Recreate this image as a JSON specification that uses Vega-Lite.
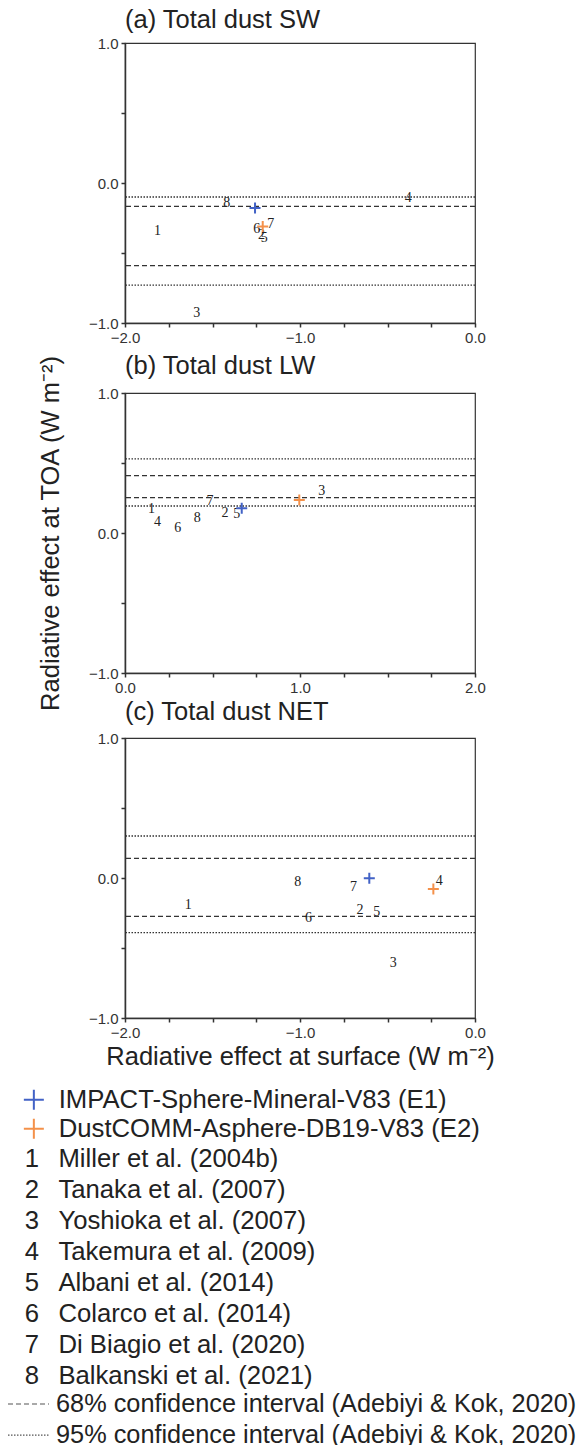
{
  "$schema": "https://vega.github.io/schema/vega-lite/v6.json",
  "padding": {"left": 7, "top": 6, "right": 0, "bottom": 0},
  "background": "white",
  "config": {
    "font": "Liberation Sans",
    "view": {"stroke": "#333", "strokeWidth": 1.2},
    "axis": {"domainColor": "#333", "domainWidth": 1.5, "tickColor": "#333", "tickWidth": 1.5, "tickSize": 4, "labelFontSize": 15, "labelColor": "#333", "labelPadding": 3, "labelFlush": false, "labelOverlap": false, "grid": false, "titleFontSize": 25.5, "titleFontWeight": "normal", "titleColor": "#222"},
    "title": {"fontSize": 25.5, "fontWeight": "normal", "color": "#222", "anchor": "start", "frame": "group", "baseline": "alphabetic"},
    "legend": {"padding": 0, "offset": 0, "labelFontSize": 25.7, "labelColor": "#222", "labelLimit": 700}
  },
  "datasets": {
    "lines": [
      {"panel": "a", "toa": -0.10, "ci": "95% confidence interval (Adebiyi & Kok, 2020)"},
      {"panel": "a", "toa": -0.73, "ci": "95% confidence interval (Adebiyi & Kok, 2020)"},
      {"panel": "a", "toa": -0.167, "ci": "68% confidence interval (Adebiyi & Kok, 2020)"},
      {"panel": "a", "toa": -0.59, "ci": "68% confidence interval (Adebiyi & Kok, 2020)"},
      {"panel": "b", "toa": 0.53, "ci": "95% confidence interval (Adebiyi & Kok, 2020)"},
      {"panel": "b", "toa": 0.193, "ci": "95% confidence interval (Adebiyi & Kok, 2020)"},
      {"panel": "b", "toa": 0.41, "ci": "68% confidence interval (Adebiyi & Kok, 2020)"},
      {"panel": "b", "toa": 0.252, "ci": "68% confidence interval (Adebiyi & Kok, 2020)"},
      {"panel": "c", "toa": 0.30, "ci": "95% confidence interval (Adebiyi & Kok, 2020)"},
      {"panel": "c", "toa": -0.39, "ci": "95% confidence interval (Adebiyi & Kok, 2020)"},
      {"panel": "c", "toa": 0.14, "ci": "68% confidence interval (Adebiyi & Kok, 2020)"},
      {"panel": "c", "toa": -0.274, "ci": "68% confidence interval (Adebiyi & Kok, 2020)"}
    ],
    "studies": [
      {"panel": "a", "id": "1", "study": "Miller et al. (2004b)", "surface": -1.815, "toa": -0.341},
      {"panel": "a", "id": "2", "study": "Tanaka et al. (2007)", "surface": -1.22, "toa": -0.37},
      {"panel": "a", "id": "3", "study": "Yoshioka et al. (2007)", "surface": -1.59, "toa": -0.929},
      {"panel": "a", "id": "4", "study": "Takemura et al. (2009)", "surface": -0.381, "toa": -0.107},
      {"panel": "a", "id": "5", "study": "Albani et al. (2014)", "surface": -1.205, "toa": -0.39},
      {"panel": "a", "id": "6", "study": "Colarco et al. (2014)", "surface": -1.247, "toa": -0.329},
      {"panel": "a", "id": "7", "study": "Di Biagio et al. (2020)", "surface": -1.167, "toa": -0.29},
      {"panel": "a", "id": "8", "study": "Balkanski et al. (2021)", "surface": -1.419, "toa": -0.14},
      {"panel": "b", "id": "1", "study": "Miller et al. (2004b)", "surface": 0.152, "toa": 0.171},
      {"panel": "b", "id": "2", "study": "Tanaka et al. (2007)", "surface": 0.571, "toa": 0.143},
      {"panel": "b", "id": "3", "study": "Yoshioka et al. (2007)", "surface": 1.124, "toa": 0.298},
      {"panel": "b", "id": "4", "study": "Takemura et al. (2009)", "surface": 0.185, "toa": 0.076},
      {"panel": "b", "id": "5", "study": "Albani et al. (2014)", "surface": 0.638, "toa": 0.136},
      {"panel": "b", "id": "6", "study": "Colarco et al. (2014)", "surface": 0.301, "toa": 0.036},
      {"panel": "b", "id": "7", "study": "Di Biagio et al. (2020)", "surface": 0.486, "toa": 0.231},
      {"panel": "b", "id": "8", "study": "Balkanski et al. (2021)", "surface": 0.413, "toa": 0.107},
      {"panel": "c", "id": "1", "study": "Miller et al. (2004b)", "surface": -1.638, "toa": -0.193},
      {"panel": "c", "id": "2", "study": "Tanaka et al. (2007)", "surface": -0.657, "toa": -0.229},
      {"panel": "c", "id": "3", "study": "Yoshioka et al. (2007)", "surface": -0.467, "toa": -0.609},
      {"panel": "c", "id": "4", "study": "Takemura et al. (2009)", "surface": -0.204, "toa": -0.024},
      {"panel": "c", "id": "5", "study": "Albani et al. (2014)", "surface": -0.562, "toa": -0.24},
      {"panel": "c", "id": "6", "study": "Colarco et al. (2014)", "surface": -0.952, "toa": -0.286},
      {"panel": "c", "id": "7", "study": "Di Biagio et al. (2020)", "surface": -0.695, "toa": -0.067},
      {"panel": "c", "id": "8", "study": "Balkanski et al. (2021)", "surface": -1.013, "toa": -0.031}
    ],
    "models": [
      {"panel": "a", "model": "IMPACT-Sphere-Mineral-V83 (E1)", "surface": -1.257, "toa": -0.179},
      {"panel": "a", "model": "DustCOMM-Asphere-DB19-V83 (E2)", "surface": -1.213, "toa": -0.31},
      {"panel": "b", "model": "IMPACT-Sphere-Mineral-V83 (E1)", "surface": 0.667, "toa": 0.176},
      {"panel": "b", "model": "DustCOMM-Asphere-DB19-V83 (E2)", "surface": 0.996, "toa": 0.236},
      {"panel": "c", "model": "IMPACT-Sphere-Mineral-V83 (E1)", "surface": -0.604, "toa": -0.002},
      {"panel": "c", "model": "DustCOMM-Asphere-DB19-V83 (E2)", "surface": -0.238, "toa": -0.079}
    ]
  },
  "bounds": "flush",
  "spacing": 70,
  "vconcat": [
    {
      "width": 350, "height": 280,
      "title": {"text": "(a) Total dust SW", "offset": 3},
      "layer": [
        {
          "data": {"name": "lines"},
          "transform": [{"filter": "datum.panel === 'a'"}],
          "mark": {"type": "rule", "color": "#333", "strokeWidth": 1.3},
          "encoding": {
            "y": {"field": "toa", "type": "quantitative", "scale": {"domain": [-1, 1], "nice": false, "zero": false},
                  "axis": {"values": [-1, -0.75, -0.5, -0.25, 0, 0.25, 0.5, 0.75, 1], "labelExpr": "datum.value % 1 === 0 ? format(datum.value, '.1f') : ''", "title": null}},
            "strokeDash": {"field": "ci", "type": "nominal",
              "scale": {"domain": ["68% confidence interval (Adebiyi & Kok, 2020)", "95% confidence interval (Adebiyi & Kok, 2020)"], "range": [[5, 3], [1.5, 1.5]]},
              "legend": {"orient": "none", "legendX": -118, "legendY": 1348, "title": null, "symbolType": "stroke", "symbolSize": 1681, "symbolStrokeColor": "#555", "symbolStrokeWidth": 1.2, "labelOffset": 6, "labelFontSize": 25.3, "rowPadding": 4.2, "clipHeight": 26}}
          }
        },
        {
          "data": {"name": "studies"},
          "transform": [{"filter": "datum.panel === 'a'"}],
          "mark": {"type": "text", "font": "Liberation Serif", "fontSize": 14, "baseline": "middle", "align": "center"},
          "encoding": {
            "x": {"field": "surface", "type": "quantitative", "scale": {"domain": [-2, 0], "nice": false, "zero": false},
                  "axis": {"values": [-2, -1.75, -1.5, -1.25, -1, -0.75, -0.5, -0.25, 0], "labelExpr": "datum.value % 1 === 0 ? format(datum.value, '.1f') : ''", "title": null}},
            "y": {"field": "toa", "type": "quantitative", "scale": {"domain": [-1, 1], "nice": false, "zero": false}},
            "text": {"field": "id", "type": "nominal"},
            "fill": {"field": "study", "type": "nominal",
              "scale": {"domain": ["Miller et al. (2004b)", "Tanaka et al. (2007)", "Yoshioka et al. (2007)", "Takemura et al. (2009)", "Albani et al. (2014)", "Colarco et al. (2014)", "Di Biagio et al. (2020)", "Balkanski et al. (2021)"], "range": ["#222", "#222", "#222", "#222", "#222", "#222", "#222", "#222"]},
              "legend": {"orient": "none", "legendX": -100, "legendY": 1103, "title": null, "symbolSize": 0, "symbolOpacity": 0, "labelOffset": -26, "rowPadding": 4.0, "labelExpr": "(datum.index + 1) + '\u00a0\u00a0\u2009' + datum.label"}}
          }
        },
        {
          "data": {"name": "models"},
          "transform": [{"filter": "datum.panel === 'a'"}],
          "mark": {"type": "point", "shape": "M-1,0H1M0,-1V1", "filled": false, "size": 121, "strokeWidth": 2, "opacity": 1},
          "encoding": {
            "x": {"field": "surface", "type": "quantitative", "scale": {"domain": [-2, 0], "nice": false, "zero": false}},
            "y": {"field": "toa", "type": "quantitative", "scale": {"domain": [-1, 1], "nice": false, "zero": false}},
            "stroke": {"field": "model", "type": "nominal",
              "scale": {"domain": ["IMPACT-Sphere-Mineral-V83 (E1)", "DustCOMM-Asphere-DB19-V83 (E2)"], "range": ["#4262c6", "#f4914a"]},
              "legend": {"orient": "none", "legendX": -104, "legendY": 1044, "title": null, "symbolType": "M-1,0H1M0,-1V1", "symbolSize": 400, "symbolStrokeWidth": 2, "symbolFillColor": "transparent", "labelOffset": 12, "rowPadding": 0}}
          }
        }
      ]
    },
    {
      "bounds": "flush",
      "spacing": 65,
      "vconcat": [
        {
          "width": 350, "height": 280,
          "title": {"text": "(b) Total dust LW", "offset": -25},
          "layer": [
            {
              "data": {"name": "lines"},
              "transform": [{"filter": "datum.panel === 'b'"}],
              "mark": {"type": "rule", "color": "#333", "strokeWidth": 1.3},
              "encoding": {
                "y": {"field": "toa", "type": "quantitative", "scale": {"domain": [-1, 1], "nice": false, "zero": false},
                      "axis": {"values": [-1, -0.75, -0.5, -0.25, 0, 0.25, 0.5, 0.75, 1], "labelExpr": "datum.value % 1 === 0 ? format(datum.value, '.1f') : ''", "title": "Radiative effect at TOA (W m⁻²)", "titlePadding": 25}},
                "strokeDash": {"field": "ci", "type": "nominal",
                  "scale": {"domain": ["68% confidence interval (Adebiyi & Kok, 2020)", "95% confidence interval (Adebiyi & Kok, 2020)"], "range": [[5, 3], [1.5, 1.5]]},
                  "legend": {"orient": "none", "legendX": -118, "legendY": 1348, "title": null, "symbolType": "stroke", "symbolSize": 1681, "symbolStrokeColor": "#555", "symbolStrokeWidth": 1.2, "labelOffset": 6, "labelFontSize": 25.3, "rowPadding": 4.2, "clipHeight": 26}}
              }
            },
            {
              "data": {"name": "studies"},
              "transform": [{"filter": "datum.panel === 'b'"}],
              "mark": {"type": "text", "font": "Liberation Serif", "fontSize": 14, "baseline": "middle", "align": "center"},
              "encoding": {
                "x": {"field": "surface", "type": "quantitative", "scale": {"domain": [0, 2], "nice": false, "zero": false},
                      "axis": {"values": [0, 0.25, 0.5, 0.75, 1, 1.25, 1.5, 1.75, 2], "labelExpr": "datum.value % 1 === 0 ? format(datum.value, '.1f') : ''", "title": null}},
                "y": {"field": "toa", "type": "quantitative", "scale": {"domain": [-1, 1], "nice": false, "zero": false}},
                "text": {"field": "id", "type": "nominal"},
                "fill": {"field": "study", "type": "nominal",
                  "scale": {"domain": ["Miller et al. (2004b)", "Tanaka et al. (2007)", "Yoshioka et al. (2007)", "Takemura et al. (2009)", "Albani et al. (2014)", "Colarco et al. (2014)", "Di Biagio et al. (2020)", "Balkanski et al. (2021)"], "range": ["#222", "#222", "#222", "#222", "#222", "#222", "#222", "#222"]},
                  "legend": {"orient": "none", "legendX": -100, "legendY": 1103, "title": null, "symbolSize": 0, "symbolOpacity": 0, "labelOffset": -26, "rowPadding": 4.0, "labelExpr": "(datum.index + 1) + '\u00a0\u00a0\u2009' + datum.label"}}
              }
            },
            {
              "data": {"name": "models"},
              "transform": [{"filter": "datum.panel === 'b'"}],
              "mark": {"type": "point", "shape": "M-1,0H1M0,-1V1", "filled": false, "size": 121, "strokeWidth": 2, "opacity": 1},
              "encoding": {
                "x": {"field": "surface", "type": "quantitative", "scale": {"domain": [0, 2], "nice": false, "zero": false}},
                "y": {"field": "toa", "type": "quantitative", "scale": {"domain": [-1, 1], "nice": false, "zero": false}},
                "stroke": {"field": "model", "type": "nominal",
                  "scale": {"domain": ["IMPACT-Sphere-Mineral-V83 (E1)", "DustCOMM-Asphere-DB19-V83 (E2)"], "range": ["#4262c6", "#f4914a"]},
                  "legend": {"orient": "none", "legendX": -104, "legendY": 1044, "title": null, "symbolType": "M-1,0H1M0,-1V1", "symbolSize": 400, "symbolStrokeWidth": 2, "symbolFillColor": "transparent", "labelOffset": 12, "rowPadding": 0}}
              }
            }
          ]
        },
        {
          "width": 350, "height": 280,
          "title": {"text": "(c) Total dust NET", "offset": 5.5},
          "layer": [
            {
              "data": {"name": "lines"},
              "transform": [{"filter": "datum.panel === 'c'"}],
              "mark": {"type": "rule", "color": "#333", "strokeWidth": 1.3},
              "encoding": {
                "y": {"field": "toa", "type": "quantitative", "scale": {"domain": [-1, 1], "nice": false, "zero": false},
                      "axis": {"values": [-1, -0.75, -0.5, -0.25, 0, 0.25, 0.5, 0.75, 1], "labelExpr": "datum.value % 1 === 0 ? format(datum.value, '.1f') : ''", "title": null}},
                "strokeDash": {"field": "ci", "type": "nominal",
                  "scale": {"domain": ["68% confidence interval (Adebiyi & Kok, 2020)", "95% confidence interval (Adebiyi & Kok, 2020)"], "range": [[5, 3], [1.5, 1.5]]},
                  "legend": {"orient": "none", "legendX": -118, "legendY": 1348, "title": null, "symbolType": "stroke", "symbolSize": 1681, "symbolStrokeColor": "#555", "symbolStrokeWidth": 1.2, "labelOffset": 6, "labelFontSize": 25.3, "rowPadding": 4.2, "clipHeight": 26}}
              }
            },
            {
              "data": {"name": "studies"},
              "transform": [{"filter": "datum.panel === 'c'"}],
              "mark": {"type": "text", "font": "Liberation Serif", "fontSize": 14, "baseline": "middle", "align": "center"},
              "encoding": {
                "x": {"field": "surface", "type": "quantitative", "scale": {"domain": [-2, 0], "nice": false, "zero": false},
                      "axis": {"values": [-2, -1.75, -1.5, -1.25, -1, -0.75, -0.5, -0.25, 0], "labelExpr": "datum.value % 1 === 0 ? format(datum.value, '.1f') : ''", "title": "Radiative effect at surface (W m⁻²)", "titlePadding": 4}},
                "y": {"field": "toa", "type": "quantitative", "scale": {"domain": [-1, 1], "nice": false, "zero": false}},
                "text": {"field": "id", "type": "nominal"},
                "fill": {"field": "study", "type": "nominal",
                  "scale": {"domain": ["Miller et al. (2004b)", "Tanaka et al. (2007)", "Yoshioka et al. (2007)", "Takemura et al. (2009)", "Albani et al. (2014)", "Colarco et al. (2014)", "Di Biagio et al. (2020)", "Balkanski et al. (2021)"], "range": ["#222", "#222", "#222", "#222", "#222", "#222", "#222", "#222"]},
                  "legend": {"orient": "none", "legendX": -100, "legendY": 1103, "title": null, "symbolSize": 0, "symbolOpacity": 0, "labelOffset": -26, "rowPadding": 4.0, "labelExpr": "(datum.index + 1) + '\u00a0\u00a0\u2009' + datum.label"}}
              }
            },
            {
              "data": {"name": "models"},
              "transform": [{"filter": "datum.panel === 'c'"}],
              "mark": {"type": "point", "shape": "M-1,0H1M0,-1V1", "filled": false, "size": 121, "strokeWidth": 2, "opacity": 1},
              "encoding": {
                "x": {"field": "surface", "type": "quantitative", "scale": {"domain": [-2, 0], "nice": false, "zero": false}},
                "y": {"field": "toa", "type": "quantitative", "scale": {"domain": [-1, 1], "nice": false, "zero": false}},
                "stroke": {"field": "model", "type": "nominal",
                  "scale": {"domain": ["IMPACT-Sphere-Mineral-V83 (E1)", "DustCOMM-Asphere-DB19-V83 (E2)"], "range": ["#4262c6", "#f4914a"]},
                  "legend": {"orient": "none", "legendX": -104, "legendY": 1044, "title": null, "symbolType": "M-1,0H1M0,-1V1", "symbolSize": 400, "symbolStrokeWidth": 2, "symbolFillColor": "transparent", "labelOffset": 12, "rowPadding": 0}}
              }
            }
          ]
        }
      ]
    }
  ]
}
